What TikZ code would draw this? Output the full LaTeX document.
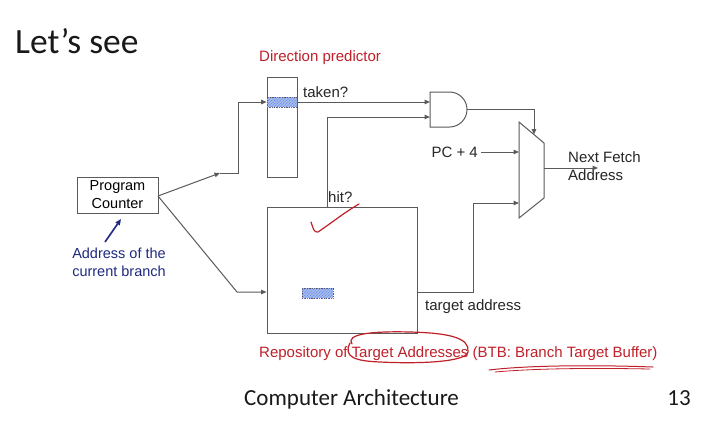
\documentclass[tikz,border=0pt]{standalone}
\usepackage{fontspec}
\setmainfont{Liberation Sans}
\newfontfamily\slidefont{Carlito}
\usetikzlibrary{arrows.meta,patterns}
\definecolor{ln}{HTML}{5A5A5A}
\definecolor{rd}{HTML}{C0202A}
\definecolor{nv}{HTML}{1F2A80}
\definecolor{hb}{HTML}{9DBDE6}
\tikzset{
  wire/.style={draw=ln, line width=1pt},
  arr/.style={wire, -{Triangle[length=5.5pt,width=4.5pt]}},
  box/.style={draw=ln, line width=1pt, fill=white},
  lbl/.style={font=\fontsize{15}{18}\selectfont, text=black!85, inner sep=0pt},
  rlbl/.style={font=\fontsize{15}{18}\selectfont, text=rd, inner sep=0pt},
  hatch/.style={draw=ln, densely dotted, line width=0.7pt, fill=hb, postaction={pattern=north east lines, pattern color=blue!55}},
  ink/.style={draw=rd, line width=1.2pt, line cap=round, line join=round},
}
\begin{document}
\begin{tikzpicture}[x=1pt,y=-1pt]
\useasboundingbox (0,0) rectangle (711,426);
\fill[white] (0,0) rectangle (711,426);
% slide text
\node[anchor=base west, inner sep=0pt, font=\slidefont\fontsize{35.5}{38}\selectfont, text=black!90] (title) at (15,53) {Let’s see};
\node[anchor=base west, inner sep=0pt, font=\slidefont\fontsize{23}{26}\selectfont, text=black!90] (footer) at (244,405) {Computer Architecture};
\node[anchor=base east, inner sep=0pt, font=\slidefont\fontsize{23}{26}\selectfont, text=black!90] (pnum) at (691,405) {13};

% Program counter
\node[box, minimum width=81pt, minimum height=36pt, inner sep=0pt, align=center, font=\fontsize{14.5}{18}\selectfont] (pc) at (117.5,195) {Program\\Counter};
\node[anchor=north, align=center, inner sep=0pt, font=\fontsize{14.5}{18}\selectfont, text=nv] (addr) at (119,248) {Address of the\\current branch};
\coordinate (na) at (105,242);
\coordinate (nb) at (121,219);
\draw[draw=nv, line width=1.6pt, -{Triangle[length=6pt,width=5pt]}] (na) -- (nb);

% Direction predictor
\node[rlbl, anchor=base west] (dplbl) at (259,61) {Direction predictor};
\node[box, minimum width=30pt, minimum height=100pt, inner sep=0pt] (dp) at (282,127) {};
\node[hatch, minimum width=30pt, minimum height=10pt, inner sep=0pt] (dph) at (282,102) {};
\node[lbl, anchor=base west] (taken) at (303,97) {taken?};

% BTB
\node[box, minimum width=150pt, minimum height=126pt, inner sep=0pt] (btb) at (342,270) {};
\node[hatch, minimum width=31pt, minimum height=10pt, inner sep=0pt] (btbh) at (317.5,293) {};
\node[lbl, anchor=base west] (hit) at (328,202) {hit?};
\node[lbl, anchor=base west] (tgt) at (425,310) {target address};
\node[rlbl, anchor=base west] (repo) at (259,357) {Repository of Target Addresses (BTB: Branch Target Buffer)};

% AND gate
\draw[box] (430,92) -- (449.5,92) arc[start angle=-90, end angle=90, radius=17.5] -- (430,127) -- cycle;
\coordinate (andout) at (467,109.5);
\coordinate (andin1) at (430,102);
\coordinate (andin2) at (430,117);

% Mux
\draw[box] (519,122) -- (544,143) -- (544,198) -- (519,218) -- cycle;
\coordinate (muxtop) at (534,134.5);
\coordinate (muxin1) at (519,152);
\coordinate (muxin2) at (519,203);
\coordinate (muxout) at (544,168);
\node[lbl, anchor=base east] (pc4) at (478,157) {PC + 4};
\coordinate (pc4w) at (481,152);
\node[lbl, anchor=base west, align=left] (nfa) at (568,180) {Next Fetch\\Address};
\coordinate (nfaend) at (598,168);

% wires
\coordinate (pcr) at (158,196);
\coordinate (m1) at (220,173);
\draw[arr] (pcr) -- (m1);
\draw[arr] (m1) -- (238,173) -- (238,102) -- (dph.west);
\draw[arr] (pcr) -- (237,292) -- (btb.west |- 0,292);
\draw[arr] (dph.east) -- (andin1);
\draw[arr] (btb.north -| 327,0) -- (327,117) -- (andin2);
\draw[arr] (andout) -- (534,109.5) -- (muxtop);
\draw[arr] (pc4w) -- (muxin1);
\draw[arr] (btb.east |- 0,292) -- (473,292) -- (473,203) -- (muxin2);
\draw[arr] (muxout) -- (nfaend);

% red handwriting
\draw[ink] (311,222) .. controls (313,228) and (314,233) .. (318,232) .. controls (330,224) and (345,212) .. (359,204);
\draw[ink] (352,344) .. controls (345,334) and (372,331) .. (410,332) .. controls (450,333) and (470,338) .. (468,352) .. controls (466,362) and (420,364) .. (380,362) .. controls (355,361) and (343,357) .. (350,343);
\draw[ink, line width=1pt] (489,370) .. controls (530,365) and (600,365) .. (653,367);
\draw[ink, line width=0.8pt] (495,372) .. controls (540,368) and (600,368) .. (650,369);
\end{tikzpicture}
\end{document}
